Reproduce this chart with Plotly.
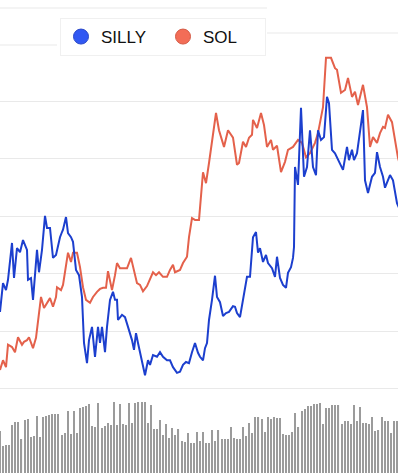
import plotly.graph_objects as go

# ---- data ----
silly_t = [0, 2, 3, 6, 8, 12, 14, 17, 20, 23, 27, 28, 31, 33, 37, 39, 42, 45, 47, 50, 53, 56, 60, 62, 63, 66, 68, 71, 73, 76,
           79, 82, 84, 87, 89, 92, 95, 98, 100, 102, 105, 107, 110, 113, 115, 117, 118, 122, 125, 128, 132, 134, 136, 138,
           142, 145, 148, 150, 153, 157, 160, 163, 167, 170, 173, 177, 180, 183, 186, 189, 192, 195, 198, 200, 203, 205,
           207, 209, 212, 215, 217, 220, 223, 226, 229, 233, 235, 237, 240, 243, 246, 247, 250, 253, 256, 258, 260, 263,
           266, 268, 272, 275, 277, 280, 283, 286, 288, 291, 293, 294, 295, 298, 301, 304, 307, 310, 313, 316, 318, 321,
           324, 327, 329, 332, 335, 338, 343, 347, 349, 352, 354, 357, 360, 363, 365, 368, 372, 375, 377, 380, 383, 385,
           390, 393, 397, 400]
silly_v = [13.4, 17.7, 18.4, 17.2, 19.0, 25.4, 19.3, 24.5, 23.8, 25.9, 24.2, 19.0, 19.3, 15.5, 24.2, 20.3, 24.2, 30.1, 28.0,
           28.0, 22.8, 23.3, 26.4, 27.3, 27.7, 29.9, 27.1, 26.4, 25.6, 20.7, 19.8, 16.0, 8.0, 4.5, 8.5, 10.8, 5.6, 10.8, 8.0,
           10.8, 6.4, 10.8, 15.5, 16.9, 15.5, 15.5, 12.0, 12.9, 12.5, 10.8, 8.5, 6.8, 9.7, 8.0, 5.0, 2.4, 5.0, 4.2, 5.9, 5.6,
           6.4, 5.6, 5.0, 5.0, 3.8, 2.8, 3.0, 4.2, 4.7, 4.5, 6.4, 8.0, 6.3, 5.6, 5.0, 7.1, 8.0, 12.0, 15.5, 19.7, 16.0, 15.1,
           12.7, 13.2, 13.4, 14.4, 14.3, 13.2, 12.5, 15.5, 19.0, 19.5, 19.5, 26.4, 27.3, 23.7, 24.5, 22.1, 23.3, 21.9, 21.0,
           19.5, 23.0, 19.3, 18.1, 17.6, 20.2, 21.2, 22.8, 24.7, 38.6, 35.5, 48.9, 36.9, 38.6, 45.0, 38.6, 37.2, 45.0, 43.3,
           43.8, 50.8, 49.7, 41.6, 41.0, 39.8, 38.1, 42.1, 39.8, 41.6, 39.8, 41.0, 45.0, 48.5, 36.3, 34.1, 36.9, 37.6, 41.2,
           38.6, 36.9, 35.0, 37.2, 36.3, 32.3, 31.1]

sol_t = [0, 3, 6, 8, 12, 15, 18, 22, 24, 27, 29, 33, 36, 38, 41, 44, 47, 50, 53, 56, 57, 61, 63, 66, 68, 71, 73, 77, 80, 83,
         86, 90, 93, 97, 100, 103, 106, 108, 112, 115, 117, 120, 124, 127, 131, 133, 137, 140, 143, 147, 150, 153, 156, 159,
         163, 167, 170, 173, 175, 180, 183, 187, 189, 192, 195, 199, 203, 206, 209, 216, 219, 224, 228, 233, 237, 239, 243,
         246, 249, 252, 253, 257, 261, 264, 267, 271, 273, 277, 281, 285, 288, 293, 298, 302, 306, 310, 315, 318, 323, 326,
         331, 335, 337, 341, 345, 348, 352, 355, 358, 363, 367, 370, 373, 377, 380, 383, 385, 388, 392, 395, 398, 400]
sol_v = [3.3, 5.0, 3.8, 7.7, 7.3, 6.4, 9.0, 7.7, 8.2, 8.5, 9.0, 7.1, 8.9, 11.5, 16.0, 14.1, 15.0, 15.8, 14.3, 16.0, 17.7,
         17.2, 18.1, 21.2, 23.7, 22.1, 23.7, 23.7, 21.2, 17.7, 15.5, 15.0, 16.0, 16.9, 17.4, 17.6, 17.6, 20.5, 17.2, 19.8,
         21.9, 21.0, 21.0, 21.0, 22.8, 21.2, 18.4, 18.1, 17.0, 17.9, 19.0, 20.3, 19.8, 20.3, 19.5, 19.5, 20.7, 21.6, 20.3,
         20.7, 21.9, 23.0, 26.4, 29.7, 29.4, 29.4, 37.7, 35.8, 39.3, 48.0, 45.0, 42.1, 45.0, 43.7, 39.0, 39.3, 43.0, 42.1,
         43.7, 44.2, 46.8, 45.4, 48.0, 45.9, 42.1, 43.3, 41.6, 42.3, 37.7, 39.5, 41.6, 42.1, 43.3, 42.8, 40.3, 41.0, 42.8,
         44.5, 49.0, 57.6, 57.6, 55.8, 55.5, 51.5, 52.0, 54.1, 50.8, 51.7, 49.4, 52.9, 49.0, 42.1, 43.8, 42.8, 44.5, 45.6,
         45.4, 47.7, 46.4, 43.3, 40.2, 39.0]

volume = [42, 27, 28, 28, 48, 51, 51, 34, 53, 54, 36, 37, 57, 36, 56, 57, 58, 59, 59, 59, 38, 40, 62, 39, 62, 40, 65, 66,
          67, 69, 47, 46, 70, 45, 47, 50, 48, 71, 48, 69, 49, 48, 70, 50, 70, 71, 71, 71, 50, 68, 44, 44, 53, 38, 49, 35,
          45, 38, 44, 32, 31, 40, 30, 30, 41,
          32, 41, 30, 30, 43, 32, 43, 34, 34, 34, 46, 35, 34, 34, 46, 37, 50, 40, 56, 56, 54, 41, 56, 54, 56, 55, 55, 39,
          38, 38, 41, 60, 46, 62, 64, 67, 67, 69, 69, 70, 49, 65, 65, 68, 68, 68, 49, 52, 52, 49, 68, 52, 66, 50, 50, 49,
          56, 42, 43, 56, 52, 52, 40, 52, 52]
vol_idx = list(range(len(volume)))

series_names = ["SILLY", "SOL"]
grid_values = [0, 10, 20, 30, 40, 50]

# ---- style ----
BLUE_LINE = "#1c3fce"
BLUE_DOT = "#3158f3"
RED_LINE = "#e4614b"
RED_DOT = "#f36d57"
GRID = "#e9e9e9"
W, H = 398, 473

fig = go.Figure()

fig.add_trace(go.Bar(x=vol_idx, y=volume, xaxis="x2", yaxis="y2", width=0.36,
                     marker=dict(color="#9b9b9b", line=dict(width=0)), showlegend=False, hoverinfo="skip"))

fig.add_trace(go.Scatter(x=sol_t, y=sol_v, mode="lines", line=dict(color=RED_LINE, width=2),
                         showlegend=False, name=series_names[1]))
fig.add_trace(go.Scatter(x=silly_t, y=silly_v, mode="lines", line=dict(color=BLUE_LINE, width=2),
                         showlegend=False, name=series_names[0]))

# legend-only entries with round markers
fig.add_trace(go.Scatter(x=[None], y=[None], mode="markers", name=series_names[0],
                         marker=dict(color=BLUE_DOT, size=15, line=dict(color="#2a48c8", width=1))))
fig.add_trace(go.Scatter(x=[None], y=[None], mode="markers", name=series_names[1],
                         marker=dict(color=RED_DOT, size=15, line=dict(color="#d45a45", width=1))))

n = len(volume)
fig.update_layout(
    width=W, height=H,
    margin=dict(l=0, r=0, t=0, b=0),
    paper_bgcolor="white", plot_bgcolor="white",
    xaxis=dict(range=[0, 398], visible=False, showgrid=False, zeroline=False),
    xaxis2=dict(range=[0, (n - 1) * 398 / 397], overlaying="x", visible=False, showgrid=False, zeroline=False),
    yaxis=dict(range=[-14.61, 67.65], tickvals=grid_values, showticklabels=False, gridcolor=GRID, gridwidth=1,
               zeroline=False, showline=False),
    yaxis2=dict(range=[0, 473], overlaying="y", visible=False, showgrid=False, zeroline=False),
    showlegend=True,
    legend=dict(orientation="h", x=60 / W, y=1 - 18 / H, xanchor="left", yanchor="top",
                bgcolor="white", bordercolor="#f0f0f0", borderwidth=1,
                font=dict(family="Liberation Sans, Arial, sans-serif", size=17, color="#111111"),
                itemsizing="trace", itemwidth=30, entrywidth=57, entrywidthmode="pixels",
                traceorder="normal"),
    shapes=[
        dict(type="line", xref="paper", yref="paper", x0=0, x1=267 / W, y0=1 - 8 / H, y1=1 - 8 / H,
             line=dict(color=GRID, width=1), layer="below"),
        dict(type="line", xref="paper", yref="paper", x0=267 / W, x1=1, y0=1 - 33 / H, y1=1 - 33 / H,
             line=dict(color=GRID, width=1), layer="below"),
        dict(type="line", xref="paper", yref="paper", x0=0, x1=57 / W, y0=1 - 45 / H, y1=1 - 45 / H,
             line=dict(color=GRID, width=1), layer="below"),
    ],
)

fig.write_html("out.html", config={"displayModeBar": False},
               post_script="document.body.style.margin='0';document.body.style.overflow='hidden';")
